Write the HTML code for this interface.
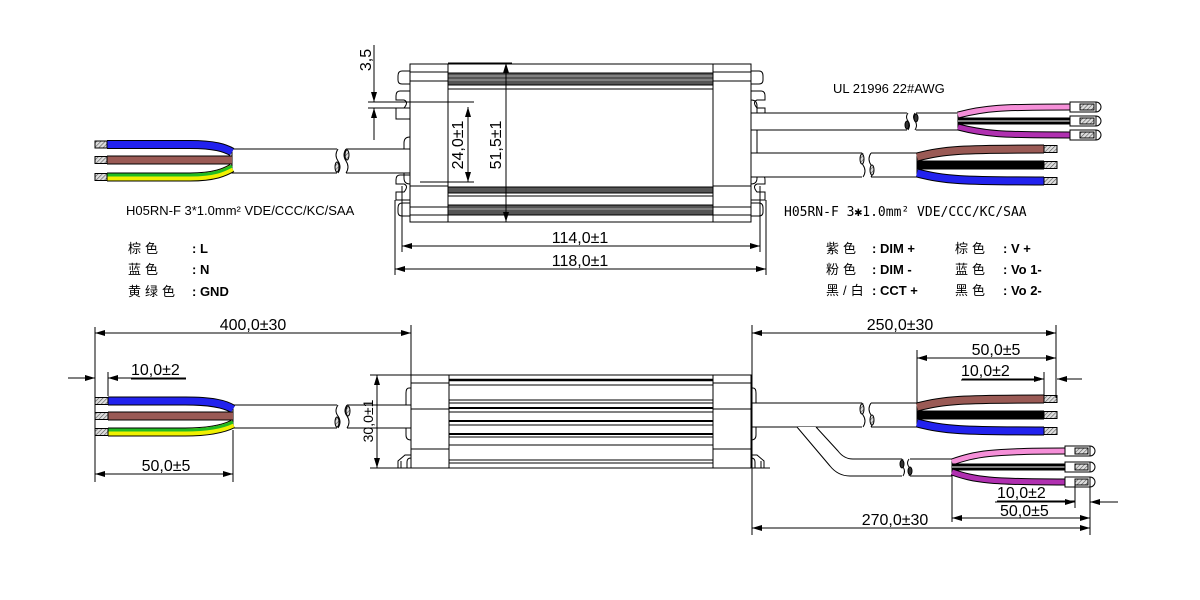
<!DOCTYPE html>
<html><head><meta charset="utf-8"><style>
html,body{margin:0;padding:0;background:#fff}
svg{display:block}
text{font-family:"Liberation Sans","Noto Sans CJK SC",sans-serif;fill:#000}
.d{font-size:16px}
.c{font-family:"Liberation Sans","Noto Sans CJK SC",sans-serif;font-size:13px}
.z{letter-spacing:4px}
.b{font-weight:bold}
</style></head><body>
<svg width="1200" height="600" viewBox="0 0 1200 600" xmlns="http://www.w3.org/2000/svg">
<defs>
<pattern id="h" width="3" height="3" patternUnits="userSpaceOnUse" patternTransform="rotate(45)">
<rect width="3" height="3" fill="#ddd"/><line x1="0" y1="0" x2="0" y2="3" stroke="#555" stroke-width="1.2"/></pattern>
<marker id="a" viewBox="0 0 10 6" refX="10" refY="3" markerWidth="10" markerHeight="6" orient="auto-start-reverse" markerUnits="userSpaceOnUse"><path d="M0,0L10,3L0,6z" fill="#000"/></marker>
</defs>
<g fill="none" stroke="#000" stroke-width="1">

<rect x="448" y="64" width="265" height="158" fill="#fff"/>
<rect x="448" y="73" width="265" height="12" fill="#555"/>
<line x1="448" y1="76" x2="713" y2="76" stroke="#aaa"/><line x1="448" y1="80" x2="713" y2="80" stroke="#aaa"/>
<line x1="448" y1="89" x2="713" y2="89"/>
<rect x="448" y="187" width="265" height="6" fill="#555"/>
<line x1="448" y1="196" x2="713" y2="196"/>
<rect x="448" y="205" width="265" height="10" fill="#555"/>
<line x1="448" y1="209" x2="713" y2="209" stroke="#aaa"/>
<rect x="410" y="64" width="38" height="158" fill="#fff"/>
<line x1="410" y1="72" x2="448" y2="72"/><line x1="410" y1="81" x2="448" y2="81"/>
<line x1="410" y1="186" x2="448" y2="186"/><line x1="410" y1="207" x2="448" y2="207"/><line x1="410" y1="215" x2="448" y2="215"/>
<rect x="713" y="64" width="38" height="158" fill="#fff"/>
<line x1="713" y1="72" x2="751" y2="72"/><line x1="713" y1="81" x2="751" y2="81"/>
<line x1="713" y1="186" x2="751" y2="186"/><line x1="713" y1="207" x2="751" y2="207"/><line x1="713" y1="215" x2="751" y2="215"/>
<path d="M410,71 H402 Q398,71 398,76 V80 Q398,84 402,84 H410"/>
<path d="M410,203 H402 Q398,203 398,208 V212 Q398,216 402,216 H410"/>
<path d="M751,71 H759 Q763,71 763,76 V80 Q763,84 759,84 H751"/>
<path d="M751,203 H759 Q763,203 763,208 V212 Q763,216 759,216 H751"/>
<path d="M410,91 H400 Q396,91 396,96 V100 H404 Q409,102 404,108 H396 V119 H410"/>
<path d="M410,175 H400 Q396,175 396,180 V184 H404 Q409,186 404,192 H396 V200 H410"/>
<path d="M751,91 H761 Q765,91 765,96 V100 H757 Q752,102 757,108 H765 V119 H751"/>
<path d="M751,175 H761 Q765,175 765,180 V184 H757 Q752,186 757,192 H765 V200 H751"/>
<path d="M410,137 Q404,137 404,143 V178 Q404,184 410,184"/>
<path d="M751,100 Q757,100 757,106 V178 Q757,184 751,184"/>

<rect x="232" y="149" width="178" height="24" fill="#fff"/>
<rect x="337" y="147" width="9" height="28" fill="#fff" stroke="none"/>
<path d="M338,149 q-4,6 0,12 q4,6 0,12"/><path d="M346,149 q-4,6 0,12 q4,6 0,12"/>
<ellipse cx="337" cy="167" rx="2" ry="5" fill="url(#h)"/><ellipse cx="347" cy="155" rx="2" ry="5" fill="url(#h)"/>
<path d="M107,144.5 H190 C215,144.5 225,148 232,152" stroke="#000" stroke-width="9"/>
<path d="M107,144.5 H190 C215,144.5 225,148 232,152" stroke="#2222ee" stroke-width="7"/>
<path d="M107,160 H232" stroke="#000" stroke-width="9"/>
<path d="M107,160 H232" stroke="#9a5a55" stroke-width="7"/>
<path d="M107,177 H190 C215,177 225,172 232,168" stroke="#000" stroke-width="9"/>
<path d="M107,177 H190 C215,177 225,172 232,168" stroke="#f0f000" stroke-width="7"/>
<path d="M107,175 H190 C215,175 225,170 232,166" stroke="#22bb22" stroke-width="3"/>
<rect x="95" y="141" width="12" height="7" fill="url(#h)"/>
<rect x="95" y="156.5" width="12" height="7" fill="url(#h)"/>
<rect x="95" y="173.5" width="12" height="7" fill="url(#h)"/>

<rect x="751" y="113" width="207" height="17" fill="#fff"/>
<rect x="907" y="111" width="9" height="21" fill="#fff" stroke="none"/>
<path d="M908,113 q-3,4 0,8 q3,4 0,9"/><path d="M915,113 q-3,4 0,8 q3,4 0,9"/>
<ellipse cx="907" cy="125" rx="2" ry="4" fill="#333"/><ellipse cx="916" cy="118" rx="2" ry="4" fill="#333"/>
<path d="M958,115 C985,108 1000,107 1070,107" stroke="#000" stroke-width="7"/>
<path d="M958,115 C985,108 1000,107 1070,107" stroke="#f58fd8" stroke-width="5"/>
<path d="M958,121 H1070" stroke="#000" stroke-width="7"/>
<path d="M958,121 H1070" stroke="#fff" stroke-width="1"/>
<path d="M958,127 C985,134 1000,135 1070,135" stroke="#000" stroke-width="7"/>
<path d="M958,127 C985,134 1000,135 1070,135" stroke="#b030b0" stroke-width="5"/>
<g fill="#fff">
<rect x="1070" y="102" width="26" height="10"/><rect x="1070" y="116" width="26" height="10"/><rect x="1070" y="130" width="26" height="10"/>
</g>
<rect x="1080" y="104" width="14" height="6" fill="url(#h)"/><rect x="1080" y="118" width="14" height="6" fill="url(#h)"/><rect x="1080" y="132" width="14" height="6" fill="url(#h)"/>
<path d="M1096,102 a5,5 0 0 1 0,10"/><path d="M1096,116 a5,5 0 0 1 0,10"/><path d="M1096,130 a5,5 0 0 1 0,10"/>
<rect x="751" y="153" width="166" height="24" fill="#fff"/>
<rect x="862" y="151" width="9" height="28" fill="#fff" stroke="none"/>
<path d="M863,153 q-4,6 0,12 q4,6 0,12"/><path d="M871,153 q-4,6 0,12 q4,6 0,12"/>
<ellipse cx="862" cy="159" rx="2" ry="5" fill="url(#h)"/><ellipse cx="872" cy="170" rx="2" ry="5" fill="url(#h)"/>
<path d="M917,157 C945,150 960,149 1044,149" stroke="#000" stroke-width="9"/>
<path d="M917,157 C945,150 960,149 1044,149" stroke="#9a5a55" stroke-width="7"/>
<path d="M917,165 H1044" stroke="#000" stroke-width="9"/>
<path d="M917,173 C945,180 960,181 1044,181" stroke="#000" stroke-width="9"/>
<path d="M917,173 C945,180 960,181 1044,181" stroke="#2222ee" stroke-width="7"/>
<rect x="1044" y="145.5" width="13" height="7" fill="url(#h)"/><rect x="1044" y="161.5" width="13" height="7" fill="url(#h)"/><rect x="1044" y="177.5" width="13" height="7" fill="url(#h)"/>

<line x1="374" y1="45" x2="374" y2="102" marker-end="url(#a)"/>
<line x1="374" y1="140" x2="374" y2="108" marker-end="url(#a)"/>
<line x1="368" y1="102" x2="474" y2="102"/><line x1="368" y1="108" x2="410" y2="108"/>
<line x1="420" y1="182" x2="474" y2="182"/>
<line x1="468" y1="107" x2="468" y2="182" marker-start="url(#a)" marker-end="url(#a)"/>
<line x1="506" y1="63" x2="506" y2="222" marker-start="url(#a)" marker-end="url(#a)"/>
<line x1="448" y1="63" x2="512" y2="63"/><line x1="448" y1="222" x2="512" y2="222"/>
<line x1="402" y1="186" x2="402" y2="252"/><line x1="760" y1="186" x2="760" y2="252"/>
<line x1="395" y1="200" x2="395" y2="275"/><line x1="766" y1="200" x2="766" y2="275"/>
<line x1="402" y1="246" x2="760" y2="246" marker-start="url(#a)" marker-end="url(#a)"/>
<line x1="395" y1="269" x2="766" y2="269" marker-start="url(#a)" marker-end="url(#a)"/>

<rect x="449" y="375" width="264" height="93" fill="#fff"/>
<line x1="449" y1="380" x2="713" y2="380" stroke-width="2.5"/>
<line x1="449" y1="385" x2="713" y2="385"/>
<line x1="449" y1="400" x2="713" y2="400"/><line x1="449" y1="403" x2="713" y2="403"/>
<line x1="449" y1="408" x2="713" y2="408" stroke-width="2"/><line x1="449" y1="412" x2="713" y2="412"/>
<line x1="449" y1="421" x2="713" y2="421" stroke-width="2"/><line x1="449" y1="425" x2="713" y2="425"/>
<line x1="449" y1="434" x2="713" y2="434" stroke-width="2"/><line x1="449" y1="437" x2="713" y2="437"/>
<line x1="449" y1="445" x2="713" y2="445"/><line x1="449" y1="460" x2="713" y2="460"/><line x1="449" y1="463" x2="713" y2="463"/>
<rect x="411" y="375" width="38" height="93" fill="#fff"/>
<line x1="411" y1="383" x2="449" y2="383"/><line x1="411" y1="409" x2="449" y2="409"/><line x1="411" y1="449" x2="449" y2="449"/>
<rect x="713" y="375" width="38" height="93" fill="#fff"/>
<line x1="713" y1="383" x2="751" y2="383"/><line x1="713" y1="409" x2="751" y2="409"/><line x1="713" y1="449" x2="751" y2="449"/>
<path d="M411,388 H409 Q406,388 406,393 V435 Q406,440 411,440"/>
<path d="M751,388 H753 Q756,388 756,393 V435 Q756,440 751,440"/>
<path d="M411,455 H405 L398,461 V468 M401,461 V468 M411,458 Q407,458 407,462 V468"/>
<path d="M751,455 H757 L764,461 V468 M761,461 V468 M751,458 Q755,458 755,462 V468"/>
<line x1="370" y1="468" x2="770" y2="468"/>

<rect x="233" y="405" width="178" height="23" fill="#fff"/>
<rect x="337" y="403" width="10" height="27" fill="#fff" stroke="none"/>
<path d="M338,405 q-4,6 0,11 q4,6 0,12"/><path d="M347,405 q-4,6 0,11 q4,6 0,12"/>
<ellipse cx="337" cy="422" rx="2" ry="5" fill="url(#h)"/><ellipse cx="348" cy="411" rx="2" ry="5" fill="url(#h)"/>
<path d="M108,401 H185 C212,401 225,404 233,409" stroke="#000" stroke-width="9"/>
<path d="M108,401 H185 C212,401 225,404 233,409" stroke="#2222ee" stroke-width="7"/>
<path d="M108,416 H233" stroke="#000" stroke-width="9"/>
<path d="M108,416 H233" stroke="#9a5a55" stroke-width="7"/>
<path d="M108,432 H185 C212,432 225,428 233,424" stroke="#000" stroke-width="9"/>
<path d="M108,432 H185 C212,432 225,428 233,424" stroke="#f0f000" stroke-width="7"/>
<path d="M108,430 H185 C212,430 225,426 233,422" stroke="#22bb22" stroke-width="3"/>
<rect x="95" y="397.5" width="13" height="7" fill="url(#h)"/><rect x="95" y="412.5" width="13" height="7" fill="url(#h)"/><rect x="95" y="428.5" width="13" height="7" fill="url(#h)"/>

<rect x="751" y="403" width="166" height="24" fill="#fff"/>
<rect x="862" y="401" width="9" height="28" fill="#fff" stroke="none"/>
<path d="M863,403 q-4,6 0,12 q4,6 0,12"/><path d="M871,403 q-4,6 0,12 q4,6 0,12"/>
<ellipse cx="862" cy="409" rx="2" ry="5" fill="url(#h)"/><ellipse cx="872" cy="420" rx="2" ry="5" fill="url(#h)"/>
<path d="M917,407 C945,400 960,399 1044,399" stroke="#000" stroke-width="9"/>
<path d="M917,407 C945,400 960,399 1044,399" stroke="#9a5a55" stroke-width="7"/>
<path d="M917,415 H1044" stroke="#000" stroke-width="9"/>
<path d="M917,423 C945,430 960,431 1044,431" stroke="#000" stroke-width="9"/>
<path d="M917,423 C945,430 960,431 1044,431" stroke="#2222ee" stroke-width="7"/>
<rect x="1044" y="395.5" width="13" height="7" fill="url(#h)"/><rect x="1044" y="411.5" width="13" height="7" fill="url(#h)"/><rect x="1044" y="427.5" width="13" height="7" fill="url(#h)"/>
<path d="M797,427 L830,466 Q838,476 850,476 H952 V459 H853 Q844,459 838,451 L816,427" fill="#fff"/>
<rect x="902" y="457" width="8" height="21" fill="#fff" stroke="none"/>
<path d="M903,459 q-3,4 0,8 q3,4 0,9"/><path d="M909,459 q-3,4 0,8 q3,4 0,9"/>
<ellipse cx="902" cy="464" rx="2" ry="4" fill="#333"/><ellipse cx="910" cy="471" rx="2" ry="4" fill="#333"/>
<path d="M952,462 C975,454 990,451 1065,451" stroke="#000" stroke-width="7"/>
<path d="M952,462 C975,454 990,451 1065,451" stroke="#f58fd8" stroke-width="5"/>
<path d="M952,467 H1065" stroke="#000" stroke-width="7"/>
<path d="M952,467 H1065" stroke="#fff" stroke-width="1"/>
<path d="M952,472 C975,480 990,482 1065,482" stroke="#000" stroke-width="7"/>
<path d="M952,472 C975,480 990,482 1065,482" stroke="#b030b0" stroke-width="5"/>
<g fill="#fff"><rect x="1065" y="446" width="25" height="10"/><rect x="1065" y="462" width="25" height="10"/><rect x="1065" y="477" width="25" height="10"/></g>
<rect x="1075" y="448" width="13" height="6" fill="url(#h)"/><rect x="1075" y="464" width="13" height="6" fill="url(#h)"/><rect x="1075" y="479" width="13" height="6" fill="url(#h)"/>
<path d="M1090,446 a5,5 0 0 1 0,10"/><path d="M1090,462 a5,5 0 0 1 0,10"/><path d="M1090,477 a5,5 0 0 1 0,10"/>

<line x1="95" y1="327" x2="95" y2="482"/><line x1="411" y1="325" x2="411" y2="375"/>
<line x1="95" y1="333" x2="411" y2="333" marker-start="url(#a)" marker-end="url(#a)"/>
<line x1="68" y1="378" x2="95" y2="378" marker-end="url(#a)"/>
<line x1="186" y1="378" x2="108" y2="378" marker-end="url(#a)"/>
<line x1="108" y1="372" x2="108" y2="396"/>
<line x1="233" y1="430" x2="233" y2="482"/>
<line x1="95" y1="474" x2="233" y2="474" marker-start="url(#a)" marker-end="url(#a)"/>
<line x1="370" y1="375" x2="411" y2="375"/>
<line x1="377" y1="375" x2="377" y2="468" marker-start="url(#a)" marker-end="url(#a)"/>

<line x1="752" y1="325" x2="752" y2="535"/><line x1="1056" y1="325" x2="1056" y2="398"/>
<line x1="752" y1="333" x2="1056" y2="333" marker-start="url(#a)" marker-end="url(#a)"/>
<line x1="917" y1="350" x2="917" y2="403"/>
<line x1="917" y1="358" x2="1056" y2="358" marker-start="url(#a)" marker-end="url(#a)"/>
<line x1="1044" y1="372" x2="1044" y2="396"/>
<line x1="962" y1="379" x2="1044" y2="379" marker-end="url(#a)"/>
<line x1="1082" y1="379" x2="1057" y2="379" marker-end="url(#a)"/>
<line x1="1075" y1="484" x2="1075" y2="508"/><line x1="1090" y1="487" x2="1090" y2="535"/>
<line x1="995" y1="502" x2="1075" y2="502" marker-end="url(#a)"/>
<line x1="1118" y1="502" x2="1090" y2="502" marker-end="url(#a)"/>
<line x1="952" y1="476" x2="952" y2="522"/>
<line x1="952" y1="518" x2="1090" y2="518" marker-start="url(#a)" marker-end="url(#a)"/>
<line x1="752" y1="528" x2="1090" y2="528" marker-start="url(#a)" marker-end="url(#a)"/>
</g>

<g class="d">
<text transform="translate(371,60) rotate(-90)" text-anchor="middle">3,5</text>
<text transform="translate(463,145) rotate(-90)" text-anchor="middle">24,0±1</text>
<text transform="translate(501,145) rotate(-90)" text-anchor="middle">51,5±1</text>
<text x="580" y="243" text-anchor="middle">114,0±1</text>
<text x="580" y="266" text-anchor="middle">118,0±1</text>
<text x="253" y="330" text-anchor="middle">400,0±30</text>
<text x="131" y="375">10,0±2</text>
<text x="166" y="471" text-anchor="middle">50,0±5</text>
<text transform="translate(373,421) rotate(-90)" text-anchor="middle" style="font-size:14px">30,0±1</text>
<text x="900" y="330" text-anchor="middle">250,0±30</text>
<text x="996" y="355" text-anchor="middle">50,0±5</text>
<text x="961" y="376">10,0±2</text>
<text x="997" y="498">10,0±2</text>
<text x="1000" y="516">50,0±5</text>
<text x="895" y="525" text-anchor="middle">270,0±30</text>
</g>
<g fill="none" stroke="#000"><line x1="131" y1="379" x2="186" y2="379"/><line x1="961" y1="380" x2="1040" y2="380"/><line x1="997" y1="501" x2="1075" y2="501"/></g>
<g class="c">
<text x="833" y="93">UL 21996  22#AWG</text>
<text x="126" y="215">H05RN-F  3*1.0mm² VDE/CCC/KC/SAA</text>
<text x="784" y="216" style="font-family:'DejaVu Sans Mono','Liberation Mono',monospace;font-size:13px">H05RN-F  3✱1.0mm² VDE/CCC/KC/SAA</text>
<text x="128" y="253" class="z">棕色</text><text x="192" y="253" class="b">:  L</text>
<text x="128" y="274" class="z">蓝色</text><text x="192" y="274" class="b">:  N</text>
<text x="128" y="296" class="z">黄绿色</text><text x="192" y="296" class="b">:  GND</text>
<text x="826" y="253" class="z">紫色</text><text x="872" y="253" class="b">:  DIM +</text>
<text x="826" y="274" class="z">粉色</text><text x="872" y="274" class="b">:  DIM -</text>
<text x="826" y="295" class="z">黑/白</text><text x="872" y="295" class="b">:  CCT +</text>
<text x="955" y="253" class="z">棕色</text><text x="1003" y="253" class="b">:  V +</text>
<text x="955" y="274" class="z">蓝色</text><text x="1003" y="274" class="b">:  Vo 1-</text>
<text x="955" y="295" class="z">黑色</text><text x="1003" y="295" class="b">:  Vo 2-</text>
</g>
</svg>
</body></html>
